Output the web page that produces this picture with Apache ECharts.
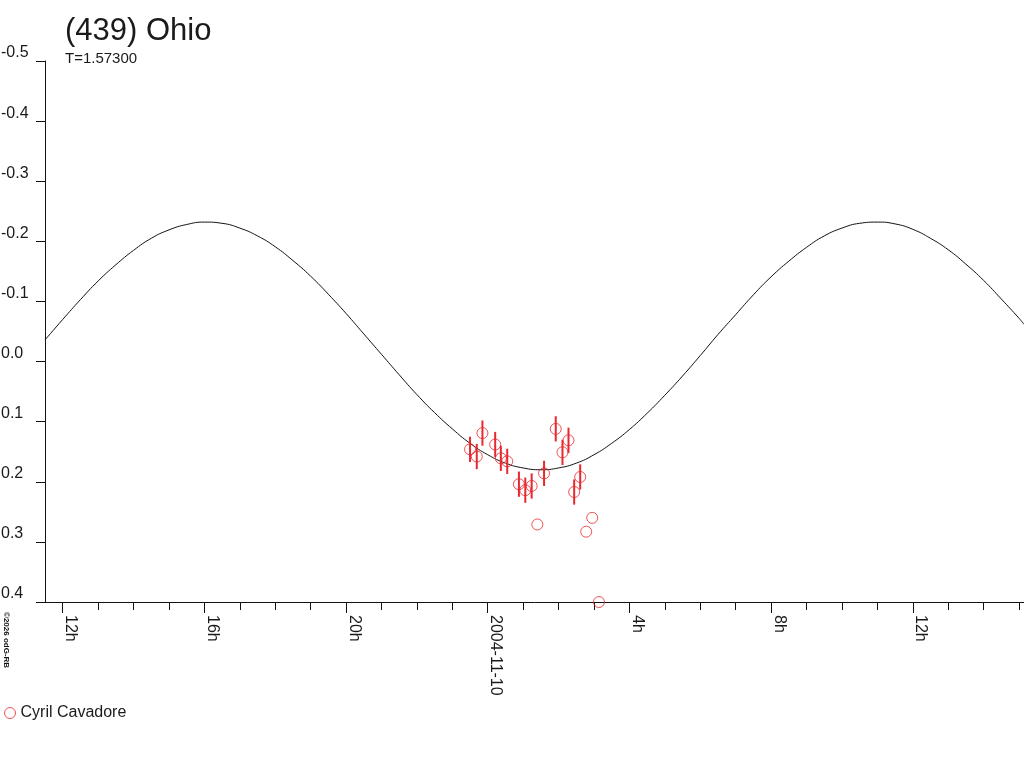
<!DOCTYPE html>
<html>
<head>
<meta charset="utf-8">
<title>(439) Ohio</title>
<script src="https://cdn.jsdelivr.net/npm/echarts@6/dist/echarts.min.js"></script>
<style>
  html, body { margin: 0; padding: 0; background: #ffffff; }
  #chart { width: 1024px; height: 768px; }
</style>
</head>
<body>
<div id="chart"></div>
<script>
// ---- Data ----
// Hours relative to 2004-11-10 00h
var curveHours = [-12.5, -12, -11.5, -11, -10.5, -10, -9.5, -9, -8.5, -8, -7.5, -7, -6.5, -6, -5.5, -5, -4.5, -4, -3.5, -3, -2.5, -2, -1.5, -1, -0.5, 0, 0.5, 1, 1.5, 2, 2.5, 3, 3.5, 4, 4.5, 5, 5.5, 6, 6.5, 7, 7.5, 8, 8.5, 9, 9.5, 10, 10.5, 11, 11.5, 12, 12.5, 13, 13.5, 14, 14.5, 15, 15.14];
var curveMags  = [-0.036, -0.070, -0.103, -0.134, -0.161, -0.185, -0.205, -0.219, -0.228, -0.232, -0.230, -0.222, -0.209, -0.191, -0.168, -0.142, -0.112, -0.080, -0.046, -0.012, 0.022, 0.055, 0.085, 0.112, 0.136, 0.155, 0.169, 0.177, 0.180, 0.177, 0.169, 0.155, 0.136, 0.113, 0.086, 0.056, 0.024, -0.010, -0.045, -0.078, -0.111, -0.141, -0.167, -0.190, -0.209, -0.222, -0.230, -0.232, -0.229, -0.220, -0.205, -0.186, -0.162, -0.135, -0.104, -0.072, -0.062];

var obsHours = [-0.50, -0.31, -0.15, 0.21, 0.37, 0.55, 0.88, 1.06, 1.24, 1.40, 1.59, 1.92, 2.11, 2.28, 2.44, 2.61, 2.78, 2.95, 3.14];
var obsMags  = [0.146, 0.158, 0.119, 0.138, 0.161, 0.166, 0.204, 0.214, 0.207, 0.271, 0.186, 0.112, 0.151, 0.131, 0.217, 0.192, 0.283, 0.260, 0.400];
var obsErrs  = [0.021, 0.021, 0.021, 0.021, 0.021, 0.021, 0.021, 0.021, 0.021, 0, 0.021, 0.021, 0.021, 0.021, 0.021, 0.021, 0, 0, 0];

var xLabelHours = [-12, -8, -4, 0, 4, 8, 12];
var xLabelTexts = ['12h', '16h', '20h', '2004-11-10', '4h', '8h', '12h'];
var xMinorHours = [-12, -11, -10, -9, -8, -7, -6, -5, -4, -3, -2, -1, 0, 1, 2, 3, 4, 5, 6, 7, 8, 9, 10, 11, 12, 13, 14, 15];

var titleText = '(439) Ohio';
var subText = 'T=1.57300';
var observer = 'Cyril Cavadore';
var copyright = '\u00a92026 odG-RB';

// ---- Build ----
var RED = '#e8282e';
var INK = '#111111';
var FONT = 'Arial, "Liberation Sans", sans-serif';

var curveData = curveHours.map(function (h, i) { return [h, curveMags[i]]; });
var obsData = obsHours.map(function (h, i) { return [h, obsMags[i], obsErrs[i]]; });

var chart = echarts.init(document.getElementById('chart'), null, { renderer: 'canvas' });

var option = {
  animation: false,
  backgroundColor: '#ffffff',
  textStyle: { fontFamily: FONT },
  title: {
    text: titleText,
    subtext: subText,
    left: 65,
    top: 16,
    padding: 0,
    itemGap: 4,
    textStyle: { fontSize: 31, fontWeight: 'normal', color: '#1a1a1a', fontFamily: FONT },
    subtextStyle: { fontSize: 15, color: '#1a1a1a', fontFamily: FONT }
  },
  legend: {
    left: 4,
    top: 705,
    padding: 0,
    itemWidth: 11,
    itemHeight: 11,
    itemGap: 10,
    data: [observer],
    itemStyle: { color: 'rgba(255,255,255,0)', borderColor: RED, borderWidth: 1 },
    textStyle: { fontSize: 16, color: '#1a1a1a', fontFamily: FONT }
  },
  graphic: [{
    type: 'text',
    x: 2,
    y: 612,
    rotation: -Math.PI / 2,
    style: {
      text: copyright,
      font: 'bold 8px Arial, "Liberation Sans", sans-serif',
      fill: INK,
      textAlign: 'left',
      textVerticalAlign: 'bottom'
    }
  }],
  grid: {
    left: 45,
    right: 0,
    top: 61,
    bottom: 166,
    containLabel: false,
    outerBoundsMode: 'none'
  },
  xAxis: [{
    type: 'value',
    min: -12.5,
    max: 15.14,
    position: 'bottom',
    splitLine: { show: false },
    axisLine: { show: true, onZero: false, lineStyle: { color: INK, width: 1 } },
    axisTick: { show: true, inside: false, length: 8, customValues: xMinorHours, lineStyle: { color: INK, width: 1 } },
    axisLabel: {
      show: true,
      customValues: xLabelHours,
      rotate: -90,
      margin: 13,
      fontSize: 16,
      color: '#1a1a1a',
      fontFamily: FONT,
      verticalAlign: 'bottom',
      formatter: function (v) {
        var idx = xLabelHours.indexOf(Math.round(v));
        return idx >= 0 ? xLabelTexts[idx] : '';
      }
    }
  }, {
    type: 'value',
    min: -12.5,
    max: 15.14,
    position: 'bottom',
    splitLine: { show: false },
    axisLine: { show: false, onZero: false },
    axisTick: { show: true, inside: false, length: 11, customValues: xLabelHours, lineStyle: { color: INK, width: 1 } },
    axisLabel: { show: false }
  }],
  yAxis: {
    type: 'value',
    inverse: true,
    min: -0.5,
    max: 0.4,
    interval: 0.1,
    splitLine: { show: false },
    axisLine: { show: true, onZero: false, lineStyle: { color: INK, width: 1 } },
    axisTick: { show: true, inside: false, length: 9, lineStyle: { color: INK, width: 1 } },
    axisLabel: {
      show: true,
      align: 'left',
      verticalAlign: 'bottom',
      margin: 44,
      fontSize: 16,
      color: '#1a1a1a',
      fontFamily: FONT,
      formatter: function (v) {
        if (Math.abs(v) < 1e-9) return '0.0';
        return v.toFixed(1);
      }
    }
  },
  series: [{
    name: 'curve',
    type: 'line',
    xAxisIndex: 0,
    data: curveData,
    smooth: true,
    showSymbol: false,
    symbol: 'none',
    silent: true,
    lineStyle: { color: INK, width: 1 },
    z: 2
  }, {
    name: 'errors',
    type: 'custom',
    xAxisIndex: 0,
    data: obsData,
    silent: true,
    z: 3,
    renderItem: function (params, api) {
      var x = api.value(0), v = api.value(1), e = api.value(2);
      if (!e) return { type: 'group', children: [] };
      var p1 = api.coord([x, v - e]);
      var p2 = api.coord([x, v + e]);
      return {
        type: 'line',
        shape: { x1: p1[0], y1: p1[1], x2: p2[0], y2: p2[1] },
        style: { stroke: RED, lineWidth: 2 }
      };
    }
  }, {
    name: observer,
    type: 'scatter',
    xAxisIndex: 0,
    data: obsData.map(function (d) { return [d[0], d[1]]; }),
    symbol: 'circle',
    symbolSize: 11,
    clip: false,
    itemStyle: { color: 'rgba(255,255,255,0)', borderColor: RED, borderWidth: 1 },
    z: 4
  }]
};

chart.setOption(option);
</script>
</body>
</html>
